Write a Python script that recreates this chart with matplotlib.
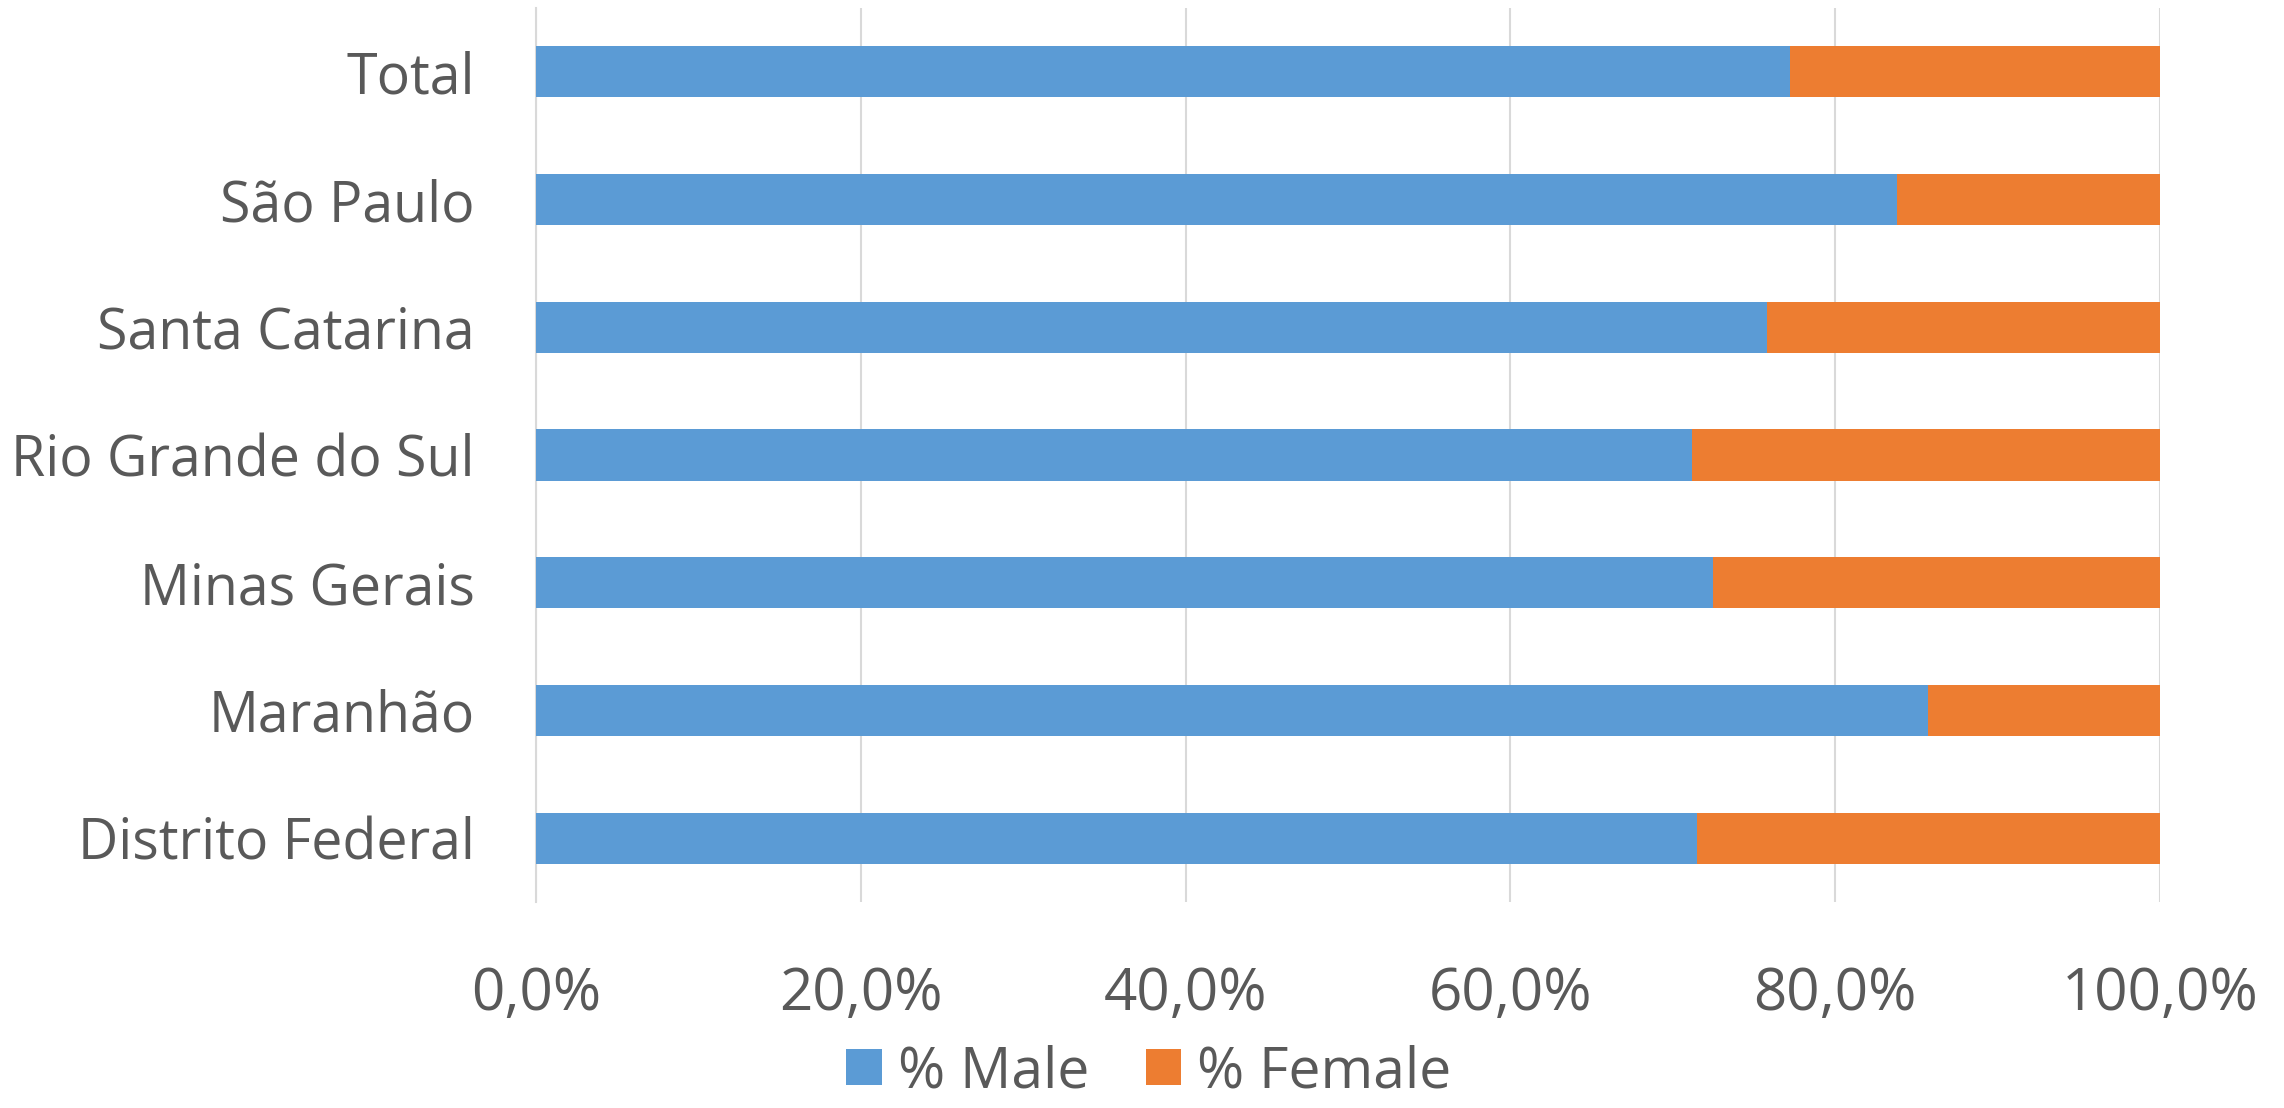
import matplotlib
matplotlib.use("Agg")
import matplotlib.pyplot as plt
from matplotlib.ticker import FuncFormatter

categories = ["Total", "São Paulo", "Santa Catarina", "Rio Grande do Sul",
              "Minas Gerais", "Maranhão", "Distrito Federal"]
male = [77.2, 83.8, 75.8, 71.2, 72.5, 85.7, 71.5]
female = [100 - m for m in male]
xticks = [0, 20, 40, 60, 80, 100]

plt.rcParams['font.family'] = ['Open Sans', 'DejaVu Sans']
txt = '#595959'

fig = plt.figure(figsize=(22.84, 11.08), dpi=100)
ax = fig.add_axes([536/2284, 1-902/1108, (2160-536)/2284, (902-8)/1108])

ypos = list(range(len(categories)))[::-1]
ax.barh(ypos, male, height=0.4, color='#5B9BD5', label='% Male', zorder=3)
ax.barh(ypos, female, left=male, height=0.4, color='#ED7D31', label='% Female', zorder=3)

ax.set_xlim(0, 100)
ax.set_ylim(-0.5, len(categories) - 0.5)
ax.set_yticks(ypos)
ax.set_yticklabels(categories)
ax.set_xticks(xticks)
ax.xaxis.set_major_formatter(FuncFormatter(lambda v, p: f"{v:.1f}%".replace('.', ',')))
ax.tick_params(axis='y', length=0, pad=44, labelsize=40, labelcolor=txt)
ax.tick_params(axis='x', length=0, pad=46, labelsize=42, labelcolor=txt)
ax.grid(axis='x', color='#d9d9d9', linewidth=1.5, zorder=0)
for s in ['top', 'right', 'bottom']:
    ax.spines[s].set_visible(False)
ax.spines['left'].set_color('#d9d9d9')
ax.spines['left'].set_linewidth(1.5)

fig.legend(loc='center', bbox_to_anchor=(0.503, 0.032), ncol=2, frameon=False,
           fontsize=41, labelcolor=txt, handlelength=0.62, handleheight=0.62,
           handletextpad=0.28, columnspacing=1.0, borderaxespad=0, borderpad=0)

fig.savefig('out.png', dpi=100)
